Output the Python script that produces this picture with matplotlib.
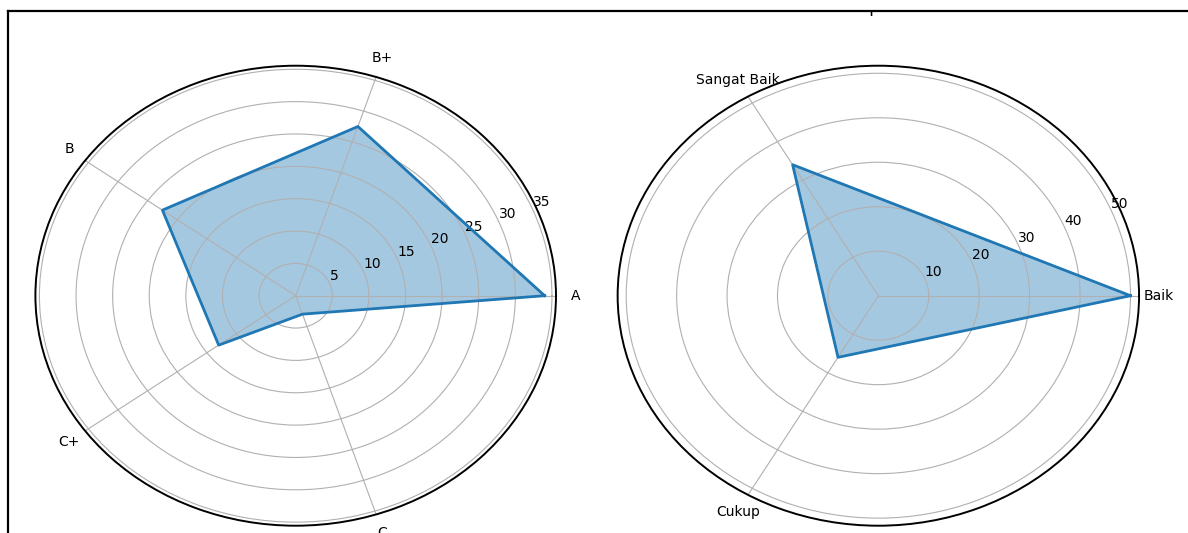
import numpy as np
import matplotlib
matplotlib.use("Agg")
import matplotlib.pyplot as plt
from matplotlib.lines import Line2D
from matplotlib.patches import Rectangle

# Data
grade_labels = ["A", "B+", "B", "C+", "C"]
grade_values = [34, 27.5, 22.5, 13, 3]

rating_labels = ["Baik", "Sangat Baik", "Cukup"]
rating_values = [50, 34, 16]

title_left = "% Predikat"
title_right = "Kepuasan"

fig = plt.figure(figsize=(11.88, 5.33), dpi=100)


def radar(ax, labels, values):
    n = len(labels)
    angles = np.linspace(0, 2 * np.pi, n, endpoint=False).tolist()
    vals = list(values) + [values[0]]
    angs = angles + [angles[0]]
    ax.plot(angs, vals, color="#1f77b4", linewidth=2)
    ax.fill(angs, vals, color="#1f77b4", alpha=0.4)
    ax.set_xticks(angles)
    ax.set_xticklabels(labels, fontsize=10)
    ax.tick_params(axis="y", labelsize=10)
    ax.spines["polar"].set_linewidth(1.4)
    ax.set_aspect("auto")


ax1 = fig.add_axes([0.0298, 0.0137, 0.4382, 0.863], projection="polar")
radar(ax1, grade_labels, grade_values)
ax1.set_ylim(0, None)

ax2 = fig.add_axes([0.5199, 0.0137, 0.4389, 0.863], projection="polar")
radar(ax2, rating_labels, rating_values)
ax2.set_ylim(0, None)

# cut-off titles (screenshot crop)
fig.text(0.2525, 1 - 12.5 / 533, title_left, ha="center", va="baseline", fontsize=12)
fig.text(0.749, 1 - 12.5 / 533, title_right, ha="center", va="baseline", fontsize=12)

# white area above the crop line
fig.add_artist(Rectangle((0, 1 - 10.5 / 533), 1, 10.5 / 533, transform=fig.transFigure,
                         facecolor="white", edgecolor="none", zorder=50))
fig.add_artist(Rectangle((0, 0), 7 / 1188, 1, transform=fig.transFigure,
                         facecolor="white", edgecolor="none", zorder=50))
# screenshot border lines
fig.add_artist(Line2D([7.5 / 1188, 1], [1 - 10.5 / 533] * 2, transform=fig.transFigure,
                      color="black", linewidth=1.6, zorder=60))
fig.add_artist(Line2D([7.5 / 1188] * 2, [0, 1 - 10.5 / 533], transform=fig.transFigure,
                      color="black", linewidth=1.6, zorder=60))

fig.savefig("out.png", dpi=100)
